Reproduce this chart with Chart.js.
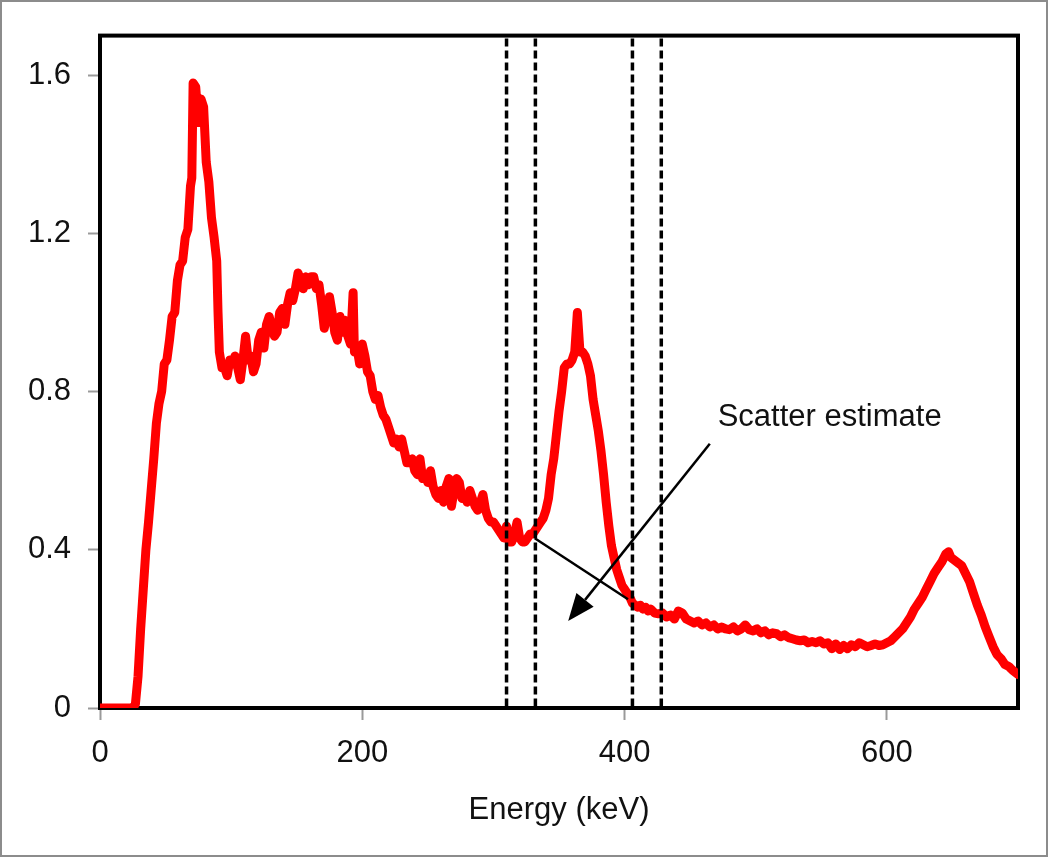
<!DOCTYPE html>
<html><head><meta charset="utf-8">
<script src="https://cdn.jsdelivr.net/npm/chart.js@4/dist/chart.umd.min.js"></script>
<style>
html,body{margin:0;padding:0;background:#fff;}
#wrap{position:relative;width:1050px;height:857px;}
#frame{position:absolute;left:0;top:0;width:1044px;height:853px;border:2px solid #8c8c8c;pointer-events:none;}
canvas{position:absolute;left:0;top:0;}
</style>
</head><body>
<div id="wrap"><canvas id="c" width="1050" height="857"></canvas><div id="frame"></div></div>
<script>
// ---- data ----
const energyKeV = [
  0,5,10,15,20,25,27,29,31,33,35,37,39,41,43,45,47,49,51,53,55,57,59,61,63,65,67,69,70,71,73,75,77,79,81,83,85,87,89,90,91,93,95,97,99,
  101,103,105,107,109,111,113,115,117,119,121,123,125,127,129,131,133,135,137,139,141,143,145,147,149,
  151,153,155,157,159,161,163,165,167,169,171,173,175,177,179,181,183,185,187,189,191,193,194,196,198,
  200,202,204,206,208,210,212,214,216,218,220,222,224,226,228,230,232,234,236,238,240,242,244,246,248,
  250,252,254,256,258,260,262,264,266,268,270,272,274,276,278,280,282,284,286,288,290,292,294,296,298,
  300,302,304,306,308,310,312,314,316,318,320,322,324,326,328,330,332,334,336,338,340,342,344,346,348,
  350,352,354,356,358,360,362,364,366,368,370,372,374,376,378,380,382,384,386,388,390,392,394,396,398,
  400,402,404,406,408,410,412,414,416,418,420,423,426,429,432,435,438,441,444,447,
  450,453,456,459,462,465,468,471,474,477,480,483,486,489,492,495,498,
  501,504,507,510,513,516,519,522,525,528,531,534,537,540,543,546,549,
  552,555,558,561,564,567,570,573,576,579,582,585,588,591,594,597,
  600,603,606,609,612,615,618,621,624,627,630,633,636,639,642,645,647,649,
  651,653,655,657,660,663,666,669,672,675,678,681,684,687,690,693,696,700
];
const countsNorm = [
  0,0,0,0,0,0,0.01,0.08,0.20,0.30,0.40,0.47,0.55,0.63,0.72,0.77,0.80,0.87,0.88,0.93,0.99,1.00,1.08,1.12,1.13,1.19,1.21,1.32,1.34,1.58,1.57,1.48,1.54,1.52,1.38,1.33,1.24,1.19,1.13,1.00,0.90,0.86,0.86,0.84,0.88,
  0.87,0.89,0.86,0.83,0.88,0.94,0.88,0.89,0.85,0.87,0.93,0.95,0.91,0.97,0.99,0.96,0.94,0.95,1.00,1.01,0.97,1.02,1.05,1.03,1.06,
  1.10,1.08,1.06,1.09,1.07,1.09,1.09,1.06,1.07,1.02,0.96,0.99,1.04,1.00,0.95,0.93,0.99,0.95,0.98,0.94,0.92,1.05,0.90,0.91,0.87,
  0.92,0.89,0.85,0.84,0.80,0.78,0.79,0.76,0.74,0.73,0.71,0.69,0.67,0.68,0.66,0.68,0.65,0.62,0.62,0.63,0.60,0.59,0.63,0.58,0.59,
  0.57,0.60,0.56,0.54,0.53,0.55,0.52,0.56,0.58,0.51,0.55,0.58,0.57,0.53,0.54,0.52,0.55,0.53,0.51,0.50,0.52,0.54,0.50,0.48,0.47,
  0.47,0.46,0.45,0.44,0.43,0.46,0.42,0.42,0.44,0.47,0.43,0.42,0.42,0.43,0.44,0.44,0.45,0.46,0.47,0.48,0.50,0.53,0.59,0.63,0.69,
  0.75,0.80,0.86,0.87,0.87,0.88,0.90,1.00,0.90,0.90,0.89,0.87,0.84,0.78,0.74,0.70,0.65,0.59,0.52,0.46,0.41,0.38,0.35,0.33,0.31,
  0.30,0.29,0.28,0.265,0.26,0.255,0.26,0.25,0.255,0.245,0.25,0.24,0.238,0.24,0.23,0.235,0.225,0.245,0.24,0.225,
  0.22,0.215,0.22,0.21,0.215,0.205,0.21,0.20,0.205,0.20,0.198,0.205,0.195,0.20,0.21,0.198,0.195,
  0.20,0.19,0.195,0.185,0.19,0.188,0.18,0.185,0.178,0.175,0.172,0.17,0.172,0.165,0.168,0.165,0.17,
  0.162,0.165,0.15,0.162,0.148,0.158,0.15,0.16,0.155,0.165,0.16,0.155,0.158,0.162,0.158,0.16,
  0.165,0.17,0.18,0.19,0.20,0.215,0.23,0.25,0.265,0.28,0.30,0.32,0.34,0.355,0.37,0.39,0.395,0.38,
  0.375,0.37,0.365,0.36,0.34,0.32,0.29,0.26,0.235,0.205,0.18,0.155,0.135,0.125,0.11,0.105,0.095,0.085
];
const xTickValues = [0, 200, 400, 600];
const yTickValues = [0, 0.4, 0.8, 1.2, 1.6];
const xRange = [0, 700];
const yRange = [0, 1.7];
const windowEdgesKeV = [310, 332, 406, 428];        // dashed energy-window lines
const scatterLineX = [331.5, 402.6];                 // scatter estimate trapezoid top
const scatterLineY = [0.429, 0.275];
const arrowFromX = 465, arrowFromY = 0.668;          // arrow start (data units)
const arrowToX = 357, arrowToY = 0.220;              // arrow tip
const noteText = 'Scatter estimate';
const noteX = 471, noteY = 0.712;
const xTitle = 'Energy (keV)';

const points = energyKeV.map((e, i) => ({x: e, y: countsNorm[i]}));
const FONT = '"Liberation Sans", Arial, sans-serif';

const overlay = {
  id: 'overlay',
  beforeDatasetsDraw(chart) {
    const {ctx, chartArea: a} = chart;
    ctx.save();
    ctx.strokeStyle = '#000';
    ctx.lineWidth = 4;
    ctx.strokeRect(a.left, a.top, a.right - a.left, a.bottom - a.top);
    ctx.restore();
  },
  afterDatasetsDraw(chart) {
    const {ctx, chartArea: a, scales: {x, y}} = chart;
    ctx.save();
    // dashed window lines
    ctx.strokeStyle = '#000';
    ctx.lineWidth = 3.5;
    ctx.setLineDash([8, 4]);
    windowEdgesKeV.forEach(e => {
      const px = x.getPixelForValue(e);
      ctx.beginPath();
      ctx.moveTo(px, a.top + 3);
      ctx.lineTo(px, a.bottom - 2);
      ctx.stroke();
    });
    ctx.setLineDash([]);
    // scatter line
    ctx.lineWidth = 2.5;
    ctx.beginPath();
    ctx.moveTo(x.getPixelForValue(scatterLineX[0]), y.getPixelForValue(scatterLineY[0]));
    ctx.lineTo(x.getPixelForValue(scatterLineX[1]), y.getPixelForValue(scatterLineY[1]));
    ctx.stroke();
    // arrow
    const x0 = x.getPixelForValue(arrowFromX), y0 = y.getPixelForValue(arrowFromY);
    const x1 = x.getPixelForValue(arrowToX), y1 = y.getPixelForValue(arrowToY);
    const ang = Math.atan2(y1 - y0, x1 - x0);
    const L = 27, W = 11;
    const bx = x1 - L * Math.cos(ang), by = y1 - L * Math.sin(ang);
    ctx.beginPath();
    ctx.moveTo(x0, y0);
    ctx.lineTo(bx, by);
    ctx.stroke();
    ctx.fillStyle = '#000';
    ctx.beginPath();
    ctx.moveTo(x1, y1);
    ctx.lineTo(bx + W * Math.sin(ang), by - W * Math.cos(ang));
    ctx.lineTo(bx - W * Math.sin(ang), by + W * Math.cos(ang));
    ctx.closePath();
    ctx.fill();
    // note text
    ctx.fillStyle = '#111';
    ctx.font = '31px ' + FONT;
    ctx.textBaseline = 'alphabetic';
    ctx.textAlign = 'left';
    ctx.fillText(noteText, x.getPixelForValue(noteX), y.getPixelForValue(noteY));
    ctx.restore();
  }
};

new Chart(document.getElementById('c'), {
  type: 'line',
  data: {
    datasets: [{
      data: points,
      borderColor: '#ff0000',
      borderWidth: 9,
      borderJoinStyle: 'round',
      borderCapStyle: 'round',
      pointRadius: 0,
      tension: 0,
      fill: false
    }]
  },
  options: {
    responsive: false,
    animation: false,
    devicePixelRatio: 1,
    layout: {padding: {left: 0, top: 30, right: 32, bottom: 0}},
    plugins: {legend: {display: false}, tooltip: {enabled: false}},
    scales: {
      x: {
        type: 'linear',
        min: xRange[0], max: xRange[1],
        afterBuildTicks: s => { s.ticks = xTickValues.map(v => ({value: v})); },
        afterFit: s => { s.height = 149; },
        grid: {drawOnChartArea: false, drawTicks: true, tickLength: 12, tickColor: '#9a9a9a', tickWidth: 2},
        border: {display: false},
        ticks: {color: '#111', font: {family: FONT, size: 31}, padding: 15, maxRotation: 0,
                callback: v => String(v)},
        title: {display: true, text: xTitle, color: '#111', font: {family: FONT, size: 31},
                padding: {top: 0, bottom: 28}}
      },
      y: {
        type: 'linear',
        min: yRange[0], max: yRange[1],
        afterBuildTicks: s => { s.ticks = yTickValues.map(v => ({value: v})); },
        afterFit: s => { s.width = 100; },
        grid: {drawOnChartArea: false, drawTicks: true, tickLength: 12, tickColor: '#9a9a9a', tickWidth: 2},
        border: {display: false},
        ticks: {color: '#111', font: {family: FONT, size: 31}, padding: 17,
                callback: v => String(v)}
      }
    }
  },
  plugins: [overlay]
});
</script>
</body></html>
